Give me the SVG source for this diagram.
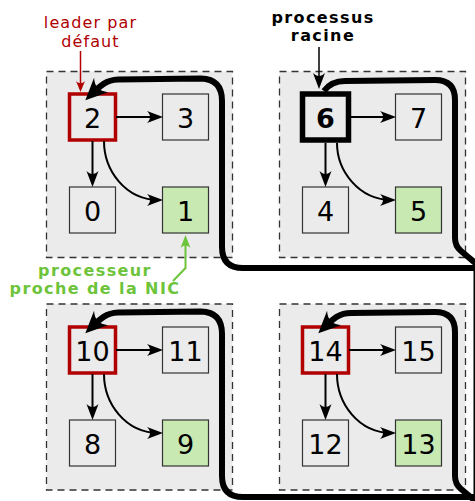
<svg xmlns="http://www.w3.org/2000/svg" width="475" height="501" viewBox="0 0 475 501">
<style>
.cl{fill:#ebebeb;stroke:#333;stroke-width:1.3;stroke-dasharray:7,5}
.nd{fill:#ebebeb;stroke:#333;stroke-width:1.2}
.gr{fill:#c8e9b1}
.ld{stroke:#b00000;stroke-width:3.5}
.rt{stroke:#000;stroke-width:5.5}
.num{font-family:"DejaVu Sans",sans-serif;font-size:27px;text-anchor:middle;fill:#000}
.lab{font-family:"DejaVu Sans",sans-serif;font-size:16px;letter-spacing:1.1px;text-anchor:middle}
.bl{font-weight:bold;letter-spacing:1.4px}
.thin{fill:none;stroke:#000;stroke-width:2;marker-end:url(#a)}
.ring{fill:none;stroke:#000;stroke-width:6;stroke-linejoin:round}
</style>
<defs>
<marker id="a" markerUnits="userSpaceOnUse" refX="-4" refY="0" markerWidth="30" markerHeight="30" orient="auto" overflow="visible">
<path d="M0,0 L-16,-6 C-12,-2 -12,2 -16,6 Z" fill="#000"/>
</marker>
<marker id="ar" markerUnits="userSpaceOnUse" refX="-4" refY="0" markerWidth="30" markerHeight="30" orient="auto" overflow="visible">
<path d="M0,0 L-11,-4.5 C-8,-1.5 -8,1.5 -11,4.5 Z" fill="#b00000"/>
</marker>
<marker id="ag" markerUnits="userSpaceOnUse" refX="-4" refY="0" markerWidth="30" markerHeight="30" orient="auto" overflow="visible">
<path d="M0,0 L-13,-5 C-9.5,-2 -9.5,2 -13,5 Z" fill="#6dc43b"/>
</marker>
<marker id="A" markerUnits="userSpaceOnUse" refX="-9" refY="0" markerWidth="40" markerHeight="40" orient="auto" overflow="visible">
<path d="M0,0 L-22,-10 C-16,-3 -16,3 -22,10 Z" fill="#000"/>
</marker>
</defs>

<g id="clusters">
<rect id="cluster-tl" class="cl" x="46.5" y="71.5" width="186" height="186"/>
<rect id="cluster-tr" class="cl" x="279.5" y="71.5" width="186" height="186"/>
<rect id="cluster-bl" class="cl" x="46.5" y="304" width="186" height="186"/>
<rect id="cluster-br" class="cl" x="279.5" y="304" width="186" height="186"/>
</g>

<g id="n2"><rect class="nd ld" x="69.5" y="94" width="46" height="46"/><text class="num" x="92.5" y="127.5">2</text></g>
<g id="n3"><rect class="nd" x="162.5" y="94" width="46" height="46"/><text class="num" x="185.5" y="127.5">3</text></g>
<g id="n0"><rect class="nd" x="69.5" y="187" width="46" height="46"/><text class="num" x="92.5" y="220.5">0</text></g>
<g id="n1"><rect class="nd gr" x="162.5" y="187" width="46" height="46"/><text class="num" x="185.5" y="220.5">1</text></g>

<g id="n6"><rect class="nd rt" x="302.5" y="94" width="46" height="46"/><text class="num" x="325.5" y="127.5" font-weight="bold">6</text></g>
<g id="n7"><rect class="nd" x="395.5" y="94" width="46" height="46"/><text class="num" x="418.5" y="127.5">7</text></g>
<g id="n4"><rect class="nd" x="302.5" y="187" width="46" height="46"/><text class="num" x="325.5" y="220.5">4</text></g>
<g id="n5"><rect class="nd gr" x="395.5" y="187" width="46" height="46"/><text class="num" x="418.5" y="220.5">5</text></g>

<g id="n10"><rect class="nd ld" x="69.5" y="327" width="46" height="46"/><text class="num" x="92.5" y="360.5">10</text></g>
<g id="n11"><rect class="nd" x="162.5" y="327" width="46" height="46"/><text class="num" x="185.5" y="360.5">11</text></g>
<g id="n8"><rect class="nd" x="69.5" y="420" width="46" height="46"/><text class="num" x="92.5" y="453.5">8</text></g>
<g id="n9"><rect class="nd gr" x="162.5" y="420" width="46" height="46"/><text class="num" x="185.5" y="453.5">9</text></g>

<g id="n14"><rect class="nd ld" x="302.5" y="327" width="46" height="46"/><text class="num" x="325.5" y="360.5">14</text></g>
<g id="n15"><rect class="nd" x="395.5" y="327" width="46" height="46"/><text class="num" x="418.5" y="360.5">15</text></g>
<g id="n12"><rect class="nd" x="302.5" y="420" width="46" height="46"/><text class="num" x="325.5" y="453.5">12</text></g>
<g id="n13"><rect class="nd gr" x="395.5" y="420" width="46" height="46"/><text class="num" x="418.5" y="453.5">13</text></g>

<g id="connectors">
<path class="thin" d="M116,117 L159,117"/>
<path class="thin" d="M92.5,141 L92.5,183"/>
<path class="thin" d="M104,141 C104,170 125,200 159,200"/>
<path class="thin" d="M349,117 L392,117"/>
<path class="thin" d="M325.5,143 L325.5,183"/>
<path class="thin" d="M337,143 C337,170 358,200 392,200"/>
<path class="thin" d="M116,350 L159,350"/>
<path class="thin" d="M92.5,374 L92.5,416"/>
<path class="thin" d="M104,374 C104,403 125,433 159,433"/>
<path class="thin" d="M349,350 L392,350"/>
<path class="thin" d="M325.5,374 L325.5,416"/>
<path class="thin" d="M337,374 C337,403 358,433 392,433"/>
<path class="ring" marker-end="url(#A)" d="M480,268 L243,268 Q222,268 222,247 L222,101 Q222,79 201,78.5 L118,79.5 C106,80 100,86 91.75,94.06"/>
<path class="ring" d="M480,267 L461,251 Q455,246 455,238 L455,100 Q455,80 435,80 L345,81 C335,81 329,84 324,91"/>
<path class="ring" marker-end="url(#A)" d="M480,497 L243,497 Q222,497 222,476 L222,334 Q222,312 201,311.5 L118,312.5 C106,313 100,319 91.75,327.06"/>
<path class="ring" marker-end="url(#A)" d="M480,505 L461,489 Q455,484 455,476 L455,332 Q455,312 435,312 L351,313 C339,313 333,319 324.75,327.06"/>
<path class="ring" d="M476.5,260 L476.5,505"/>
<path d="M80.5,51 L80.5,88" fill="none" stroke="#b00000" stroke-width="1.5" marker-end="url(#ar)"/>
<path d="M319,47 L319,85" fill="none" stroke="#000" stroke-width="1.5" marker-end="url(#a)"/>
<path d="M173,281 L185.5,268 L185.5,239" fill="none" stroke="#6dc43b" stroke-width="2" marker-end="url(#ag)"/>
</g>

<g id="labels">
<text class="lab" fill="#b00000"><tspan x="90.5" y="28">leader par</tspan><tspan x="90.5" y="46.7">défaut</tspan></text>
<text class="lab bl" fill="#000"><tspan x="323" y="22.5">processus</tspan><tspan x="323" y="41.2">racine</tspan></text>
<text class="lab bl" fill="#6dc43b"><tspan x="95" y="275.5">processeur</tspan><tspan x="95" y="294.2">proche de la NIC</tspan></text>
</g>
</svg>
